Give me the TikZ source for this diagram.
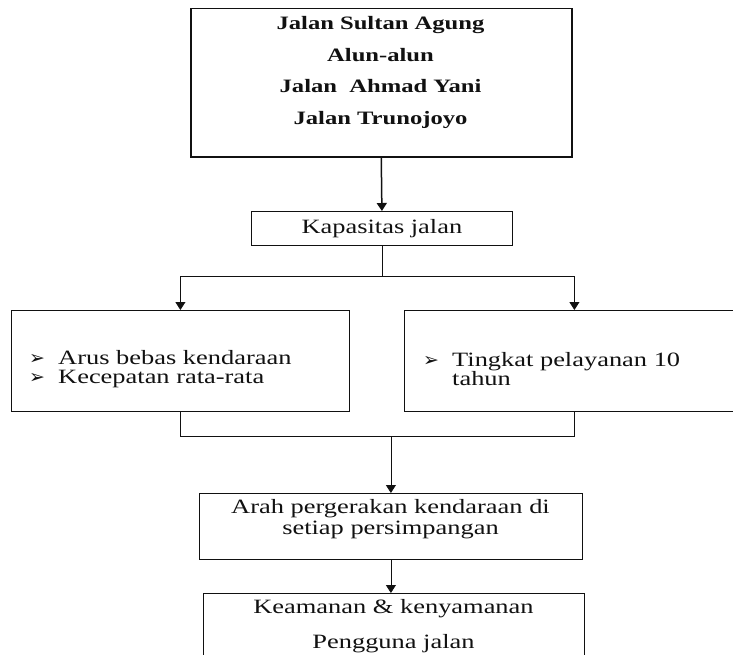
\documentclass[tikz,border=0pt]{standalone}
\usepackage{fontspec}
\setmainfont[FakeStretch=1.3]{Liberation Serif}
\newfontfamily\dingfont{DejaVu Sans}
\usepackage{tikz}
\usetikzlibrary{arrows.meta,positioning,calc}
\definecolor{FlowInk}{HTML}{111111}
\newcommand{\flowbox}[4]{%
  \node[draw=FlowInk,line width=0.8bp,inner sep=0pt,
        minimum width=#2,minimum height=#3,anchor=north west,#4] (#1) {};%
}
\newcommand{\listmark}{\makebox[29bp][l]{\dingfont\fontsize{19}{19}\selectfont ➢}}
\tikzset{
  boxtext/.style={align=center,inner sep=0pt,text=FlowInk,font=\fontsize{20.4}{#1}\selectfont},
  listtext/.style={align=left,inner sep=0pt,anchor=west,text=FlowInk,font=\fontsize{20.4}{18.5}\selectfont},
  link/.style={draw=FlowInk,line width=0.8bp}
}

\begin{document}
\begin{tikzpicture}[x=1bp,y=1bp,>={Triangle[width=10bp,length=8bp]}]
  \useasboundingbox (0,0) rectangle (733,-655);
  \clip (0,0) rectangle (733,-655);
  % boxes, pixel grid with y going down
  \flowbox{ruas}{381bp}{148bp}{line width=1.5bp,at={(190,-8)}}
  \flowbox{kapasitas}{261bp}{34bp}{at={(251,-211)}}
  \flowbox{arus}{338bp}{101bp}{at={(11,-310)}}
  \flowbox{tingkat}{340bp}{101bp}{at={(404,-310)}}
  \flowbox{arah}{383bp}{66bp}{at={(199,-493)}}
  \flowbox{aman}{381bp}{90bp}{at={(203,-593)}}
  % texts
  \node[boxtext=32,font=\bfseries\fontsize{19}{32}\selectfont] (ruastxt) at (380.5,-72.5)
    {Jalan Sultan Agung\\Alun-alun\\Jalan\ \ Ahmad Yani\\Jalan Trunojoyo};
  \node[boxtext=19] (kapasitastxt) at (kapasitas) {Kapasitas jalan};
  \node[listtext] (arustxt) at (29,-369)
    {\listmark Arus bebas kendaraan\\\listmark Kecepatan rata-rata};
  \node[listtext] (tingkattxt) at (423,-369)
    {\listmark Tingkat pelayanan 10\\\hspace*{29bp}tahun};
  \node[boxtext=21] (arahtxt) at (390.5,-519.5)
    {Arah pergerakan kendaraan di\\setiap persimpangan};
  \node[boxtext=35] (amantxt) at (393.5,-626)
    {Keamanan \& kenyamanan\\Pengguna jalan};
  % connectors
  \coordinate (cabang) at ($(kapasitas.south)+(0,-31)$);
  \coordinate (gabung) at ($(arah.north)+(0,57)$);
  \draw[link,line width=1.5bp,->] (ruas.south) -- (kapasitas.north);
  \draw[link] (kapasitas.south) -- (cabang);
  \draw[link,->] (cabang) -| (arus.north);
  \draw[link,->] (cabang) -| (tingkat.north);
  \draw[link] (arus.south) |- (gabung);
  \draw[link] (tingkat.south) |- (gabung);
  \draw[link,->] (gabung) -- (arah.north);
  \draw[link,->] (arah.south) -- (arah.south |- aman.north);
\end{tikzpicture}
\end{document}
